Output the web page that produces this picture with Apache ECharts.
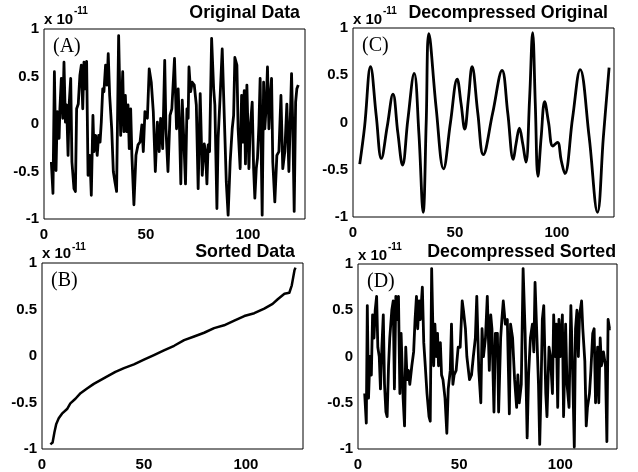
<!DOCTYPE html>
<html><head><meta charset="utf-8">
<script src="https://cdn.jsdelivr.net/npm/echarts@6/dist/echarts.min.js"></script>
<style>html,body{margin:0;padding:0;background:#fff}#c{width:638px;height:472px}</style>
</head><body><div id="c"></div>
<script>
// Values in units of 1e-11, [sample index, value]
const pointsA = [[3.6,-0.40],[4.4,-0.73],[5.1,0.55],[5.9,-0.49],[6.5,0.13],[7.4,-0.15],[7.8,0.16],[8.5,0.48],[9.2,0.06],[9.8,0.65],[10.5,0.02],[11.1,0.20],[11.8,-0.33],[12.4,0.23],[13.1,0.48],[13.7,-0.40],[14.7,-0.68],[15.4,-0.71],[16.0,0.16],[16.8,0.21],[17.6,0.51],[18.3,0.62],[19.0,0.16],[19.6,0.65],[20.3,0.37],[20.9,0.66],[21.6,-0.54],[22.5,-0.33],[23.2,-0.75],[24.0,0.09],[24.5,-0.29],[25.3,-0.12],[26.1,-0.33],[26.8,-0.12],[27.5,-0.19],[28.1,0.02],[28.8,0.37],[29.4,0.34],[30.2,0.62],[30.9,0.41],[31.5,0.74],[32.2,0.30],[33.2,-0.05],[34.0,-0.50],[34.8,-0.61],[35.6,-0.71],[36.6,0.93],[37.6,-0.12],[38.6,0.55],[39.2,-0.08],[39.9,0.30],[40.5,-0.08],[41.2,0.20],[41.8,-0.26],[42.5,0.16],[43.1,-0.33],[44.1,-0.85],[45.1,-0.33],[46.1,-0.22],[47.1,-0.19],[48.0,-0.01],[48.7,-0.29],[49.5,0.13],[50.7,0.06],[51.6,0.58],[52.6,0.44],[53.6,0.13],[54.6,-0.50],[55.6,0.02],[56.5,-0.29],[57.2,0.06],[58.2,-0.26],[59.2,0.67],[59.8,-0.05],[60.8,-0.50],[61.8,0.09],[62.7,0.16],[64.0,0.69],[65.0,-0.05],[65.8,0.37],[66.5,-0.08],[67.1,-0.63],[67.8,0.25],[68.6,0.23],[69.4,-0.63],[70.1,0.16],[70.7,0.06],[71.1,0.60],[71.9,0.34],[72.7,0.44],[73.7,0.41],[74.7,0.20],[75.6,-0.68],[76.6,0.32],[77.6,-0.54],[78.6,-0.21],[79.2,-0.29],[79.9,-0.63],[80.5,-0.22],[81.2,-0.29],[82.2,0.90],[83.2,0.37],[83.8,0.20],[84.8,-0.89],[85.4,-0.15],[86.4,0.30],[87.4,0.79],[88.1,0.30],[88.7,-0.12],[89.4,-0.61],[90.3,-0.96],[91.3,-0.40],[92.3,-0.05],[93.0,0.09],[93.6,0.70],[94.6,0.62],[95.2,-0.05],[96.2,-0.47],[96.9,0.30],[97.5,-0.19],[98.2,0.35],[98.8,-0.42],[99.5,0.41],[100.5,-0.47],[101.1,-0.05],[102.1,0.23],[102.8,-0.47],[103.4,-0.78],[104.1,-0.47],[104.7,-0.36],[105.4,-0.01],[106.0,0.48],[107.0,-0.96],[107.7,0.44],[108.3,-0.05],[109.0,0.20],[109.6,0.60],[110.3,-0.05],[110.9,0.27],[111.6,0.48],[112.2,-0.40],[113.2,-0.82],[114.2,-0.33],[115.2,-0.29],[116.2,0.30],[117.1,-0.47],[118.1,-0.29],[119.1,0.21],[120.1,-0.50],[120.7,-0.01],[121.4,0.53],[122.0,-0.01],[122.7,-0.92],[123.4,0.23],[124.0,0.37],[124.7,0.41]];

const pointsB = [[4.1,-0.95],[5.2,-0.93],[6.1,-0.82],[7.0,-0.73],[8.2,-0.67],[9.8,-0.62],[12.3,-0.57],[13.9,-0.51],[16.4,-0.46],[18.9,-0.40],[22.1,-0.35],[25.4,-0.30],[28.7,-0.26],[32.0,-0.22],[36.0,-0.17],[40.2,-0.13],[45.1,-0.09],[50.0,-0.04],[54.9,0.01],[59.8,0.06],[64.8,0.11],[69.7,0.17],[74.6,0.21],[79.5,0.25],[84.4,0.30],[89.3,0.33],[94.3,0.38],[99.2,0.43],[104.1,0.46],[109.0,0.51],[113.1,0.56],[115.6,0.61],[118.9,0.67],[121.3,0.68],[122.5,0.76],[123.8,0.92],[124.3,0.95]];

const pointsC = [[3.3,-0.44],[5.7,-0.04],[8.6,0.59],[11.4,0.07],[13.9,-0.38],[16.8,-0.04],[19.6,0.30],[22.0,-0.11],[24.3,-0.45],[26.9,0.03],[30.0,0.52],[32.3,-0.11],[34.4,-0.95],[35.9,0.00],[37.2,0.94],[40.8,0.15],[44.4,-0.49],[47.8,0.00],[51.1,0.46],[53.0,0.20],[54.8,-0.07],[56.6,0.25],[58.4,0.59],[61.2,0.10],[63.9,-0.34],[68.5,0.10],[73.1,0.55],[75.9,0.10],[78.6,-0.39],[80.0,-0.22],[81.6,-0.06],[83.2,-0.22],[84.8,-0.42],[86.6,0.25],[88.1,0.95],[89.4,0.20],[90.7,-0.57],[92.3,-0.15],[94.0,0.22],[95.9,0.00],[98.0,-0.25],[100.3,-0.21],[102.1,-0.40],[103.9,-0.54],[107.7,0.05],[111.4,0.56],[115.8,-0.15],[119.9,-0.95],[122.8,-0.15],[125.6,0.58]];

const pointsD = [[3.3,-0.40],[4.1,-0.72],[4.6,0.55],[5.2,-0.45],[5.9,0.00],[6.6,-0.20],[7.2,0.45],[7.9,0.20],[8.5,0.50],[9.2,0.65],[9.8,0.10],[10.5,0.00],[11.1,-0.35],[11.8,0.10],[12.5,0.45],[13.1,-0.30],[13.8,-0.60],[14.4,-0.65],[15.1,-0.10],[15.7,0.20],[16.7,0.50],[17.4,0.60],[18.0,-0.35],[18.7,0.65],[19.3,0.40],[20.0,0.65],[20.7,-0.40],[21.3,0.25],[22.3,-0.45],[23.0,-0.75],[23.6,0.10],[24.3,-0.25],[24.9,-0.15],[25.6,-0.30],[26.6,-0.10],[27.5,0.05],[28.2,0.40],[28.9,0.65],[29.5,0.30],[30.2,0.60],[30.8,0.40],[31.8,0.75],[32.5,0.15],[33.1,-0.05],[34.1,-0.40],[35.1,-0.65],[35.7,-0.70],[36.4,0.95],[37.4,-0.10],[38.0,0.35],[38.7,0.00],[39.3,0.25],[39.8,-0.10],[40.7,0.15],[41.3,-0.20],[42.0,-0.25],[43.0,-0.45],[43.9,-0.83],[44.6,-0.35],[45.6,-0.15],[46.2,0.35],[46.9,-0.30],[47.5,-0.20],[48.5,-0.15],[49.5,0.10],[50.5,0.10],[51.5,0.60],[52.1,0.50],[53.1,0.30],[53.8,0.00],[55.1,-0.25],[56.1,-0.20],[57.0,0.00],[58.0,0.20],[58.7,0.65],[59.7,-0.15],[60.7,-0.50],[61.3,0.30],[62.0,0.00],[63.0,0.20],[63.9,0.65],[64.9,-0.15],[65.6,0.45],[66.2,0.30],[67.2,-0.60],[67.9,0.25],[68.9,0.25],[69.5,-0.60],[70.5,0.20],[71.1,0.40],[71.8,0.60],[72.8,0.35],[73.8,0.40],[74.8,-0.62],[75.4,0.35],[76.4,0.20],[77.4,-0.25],[78.4,-0.55],[79.0,-0.20],[79.7,-0.50],[80.7,-0.30],[81.6,0.95],[82.6,0.25],[83.6,-0.88],[84.3,-0.20],[85.2,0.20],[86.2,0.35],[86.9,0.05],[87.5,0.80],[88.2,0.35],[89.2,-0.30],[89.8,-0.95],[90.5,-0.30],[91.1,0.40],[91.8,0.55],[92.8,-0.40],[93.4,-0.65],[94.4,0.10],[95.1,0.00],[96.1,-0.40],[96.7,0.45],[97.4,0.00],[98.0,0.35],[98.7,-0.55],[99.3,0.40],[100.0,0.00],[101.0,0.45],[101.6,-0.65],[102.6,0.35],[103.3,-0.30],[104.3,-0.55],[105.2,0.55],[105.9,0.00],[106.9,-0.98],[107.5,0.30],[108.2,0.50],[108.9,0.00],[109.5,0.45],[110.5,0.60],[111.1,0.30],[112.1,-0.05],[112.8,-0.75],[113.4,-0.55],[114.4,-0.40],[115.1,-0.15],[116.0,0.25],[116.7,0.30],[117.4,-0.50],[118.4,0.10],[119.0,-0.50],[119.7,0.20],[120.3,-0.10],[121.3,0.05],[122.3,-0.10],[123.0,-0.92],[123.6,0.40],[124.3,0.30],[124.9,0.30]];

const panelTitles = ['Original Data', 'Sorted Data', 'Decompressed Original', 'Decompressed Sorted'];
const panelTags = ['(A)', '(B)', '(C)', '(D)'];
const xTicks = { min: 0, max: 128, interval: 50 };
const yTicks = { min: -1, max: 1, interval: 0.5 };
const scaleText = 'x 10';
const scaleExp = '-11';

const grids = [
  { left: 44, top: 29, width: 261, height: 190 },
  { left: 42, top: 263, width: 261, height: 186 },
  { left: 353, top: 28, width: 261, height: 189 },
  { left: 358, top: 264, width: 259, height: 189 }
];
// text placement per panel: [title right, title top, scale top, exponent top]
const textPos = [
  { tr: 338, tt: 4, st: 12, et: 6 },
  { tr: 343, tt: 243, st: 246, et: 242 },
  { tr: 30, tt: 4, st: 12, et: 6 },
  { tr: 22, tt: 243, st: 248, et: 242 }
];
const seriesData = [pointsA, pointsB, pointsC, pointsD];
const smoothFlags = [false, false, true, false];

const FONT = 'Liberation Sans, Arial, sans-serif';
const chart = echarts.init(document.getElementById('c'), null, { renderer: 'canvas' });

const titles = [];
grids.forEach((g, i) => {
  const p = textPos[i];
  titles.push({ text: panelTitles[i], right: p.tr, top: p.tt, padding: 0,
    textStyle: { fontFamily: FONT, fontWeight: 'bold', fontSize: 17.8, color: '#000' } });
  titles.push({ text: scaleText, left: g.left, top: p.st, padding: 0,
    textStyle: { fontFamily: FONT, fontWeight: 'bold', fontSize: 15, color: '#000' } });
  titles.push({ text: scaleExp, left: g.left + 30, top: p.et, padding: 0,
    textStyle: { fontFamily: FONT, fontWeight: 'bold', fontSize: 10, color: '#000' } });
  titles.push({ text: panelTags[i], left: g.left + 9, top: g.top + 8, padding: 0,
    textStyle: { fontFamily: 'Liberation Serif, serif', fontWeight: 'normal', fontSize: 20, color: '#000' } });
});

const option = {
  animation: false,
  backgroundColor: '#fff',
  title: titles,
  grid: grids.map(g => Object.assign({ show: true, borderColor: '#000', borderWidth: 1, backgroundColor: 'transparent', containLabel: false }, g)),
  xAxis: grids.map((g, i) => ({
    type: 'value', gridIndex: i, min: xTicks.min, max: xTicks.max, interval: xTicks.interval,
    axisLine: { show: false }, axisTick: { show: false }, splitLine: { show: false },
    axisLabel: { showMaxLabel: false, margin: 8, color: '#000', fontFamily: FONT, fontWeight: 'bold', fontSize: 15 }
  })),
  yAxis: grids.map((g, i) => ({
    type: 'value', gridIndex: i, min: yTicks.min, max: yTicks.max, interval: yTicks.interval,
    axisLine: { show: false }, axisTick: { show: false }, splitLine: { show: false },
    axisLabel: { margin: 5, color: '#000', fontFamily: FONT, fontWeight: 'bold', fontSize: 15 }
  })),
  series: seriesData.map((d, i) => ({
    type: 'line', xAxisIndex: i, yAxisIndex: i, data: d, showSymbol: false,
    smooth: smoothFlags[i] ? 0.4 : false,
    lineStyle: { color: '#000', width: i === 1 ? 2.5 : 2.8, join: 'round' }
  }))
};
chart.setOption(option);
</script>
</body></html>
